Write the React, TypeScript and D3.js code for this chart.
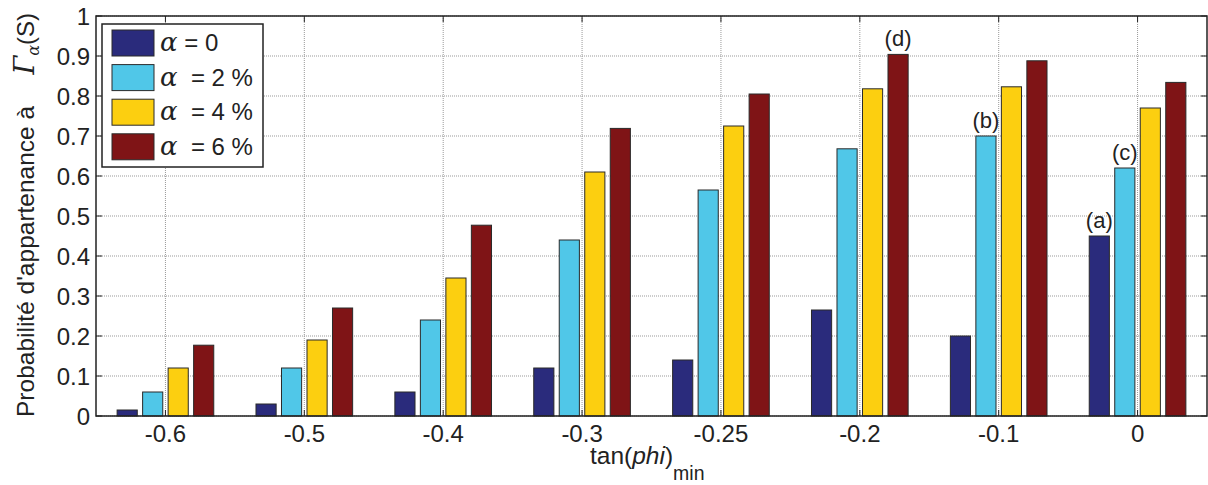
import React from "react";
import * as d3 from "d3";

const categories = ["-0.6", "-0.5", "-0.4", "-0.3", "-0.25", "-0.2", "-0.1", "0"];
const seriesNames = ["a0", "a2", "a4", "a6"];
const seriesLabels = ["= 0", " = 2 %", " = 4 %", " = 6 %"];
const seriesColors = ["#2a2b7c", "#50c7e8", "#fccf10", "#7f1416"];
const alpha0 = [0.015, 0.03, 0.06, 0.12, 0.14, 0.265, 0.2, 0.45];
const alpha2 = [0.06, 0.12, 0.24, 0.44, 0.565, 0.668, 0.7, 0.62];
const alpha4 = [0.12, 0.19, 0.345, 0.61, 0.725, 0.818, 0.823, 0.77];
const alpha6 = [0.177, 0.27, 0.477, 0.719, 0.805, 0.904, 0.888, 0.834];
const seriesValues = [alpha0, alpha2, alpha4, alpha6];
const yTicks = [0, 0.1, 0.2, 0.3, 0.4, 0.5, 0.6, 0.7, 0.8, 0.9, 1];
const annotations = [
  { label: "(d)", category: "-0.2", series: 3 },
  { label: "(b)", category: "-0.1", series: 1 },
  { label: "(c)", category: "0", series: 1 },
  { label: "(a)", category: "0", series: 0 },
];

const W = 1208;
const H = 485;
const left = 96;
const right = 1207;
const top = 16;
const bottom = 416;
const font = "'Liberation Sans', Arial, sans-serif";
const serif = "'DejaVu Serif', 'Liberation Serif', serif";

export default function App() {
  const x = d3.scaleBand<string>().domain(categories).range([left, right]).padding(0);
  const xs = d3.scaleBand<string>().domain(seriesNames).range([-51, 51]).padding(0);
  const y = d3.scaleLinear().domain([0, 1]).range([bottom, top]);
  const bw = xs.bandwidth() * 0.79;
  const cx = (c: string) => (x(c) as number) + x.bandwidth() / 2;
  const barX = (c: string, si: number) =>
    cx(c) + (xs(seriesNames[si]) as number) + (xs.bandwidth() - bw) / 2;

  return (
    <svg width={W} height={H} style={{ position: "absolute", left: 0, top: 0, background: "#fff" }}>
      {/* grid */}
      {yTicks.map((t) => (
        <line key={"gy" + t} x1={left} x2={right} y1={y(t)} y2={y(t)} stroke="#999" strokeWidth={1} strokeDasharray="1 1" />
      ))}
      {categories.map((c) => (
        <line key={"gx" + c} x1={cx(c)} x2={cx(c)} y1={top} y2={bottom} stroke="#999" strokeWidth={1} strokeDasharray="1 1" />
      ))}
      {/* bars */}
      {seriesValues.map((vals, si) =>
        categories.map((c, ci) => (
          <rect
            key={si + "-" + c}
            x={barX(c, si)}
            y={y(vals[ci])}
            width={bw}
            height={bottom - y(vals[ci])}
            fill={seriesColors[si]}
            stroke="#2a2a2a"
            strokeWidth={1}
          />
        ))
      )}
      {/* annotations */}
      {annotations.map((a) => {
        const v = seriesValues[a.series][categories.indexOf(a.category)];
        return (
          <text
            key={a.label}
            x={barX(a.category, a.series) + bw / 2}
            y={y(v) - 8}
            textAnchor="middle"
            fontFamily={font}
            fontSize={22}
            fill="#222"
          >
            {a.label}
          </text>
        );
      })}
      {/* axes box */}
      <rect x={left} y={top} width={right - left} height={bottom - top} fill="none" stroke="#222" strokeWidth={1.5} />
      {/* ticks */}
      {yTicks.map((t) => (
        <g key={"ty" + t}>
          <line x1={left} x2={left + 6} y1={y(t)} y2={y(t)} stroke="#222" strokeWidth={1} />
          <line x1={right - 6} x2={right} y1={y(t)} y2={y(t)} stroke="#222" strokeWidth={1} />
          <text x={90} y={y(t) + 8.5} textAnchor="end" fontFamily={font} fontSize={24} fill="#222">
            {d3.format("")(t)}
          </text>
        </g>
      ))}
      {categories.map((c) => (
        <g key={"tx" + c}>
          <line x1={cx(c)} x2={cx(c)} y1={bottom} y2={bottom - 6} stroke="#222" strokeWidth={1} />
          <line x1={cx(c)} x2={cx(c)} y1={top} y2={top + 6} stroke="#222" strokeWidth={1} />
          <text x={cx(c)} y={442} textAnchor="middle" fontFamily={font} fontSize={24} fill="#222">
            {c}
          </text>
        </g>
      ))}
      {/* x label */}
      <text x={590} y={464} fontFamily={font} fontSize={24.5} fill="#222">
        tan(<tspan fontStyle="italic">phi</tspan>)
        <tspan fontSize={19.5} dy={16}>min</tspan>
      </text>
      {/* y label */}
      <text
        transform={`translate(34, 417) rotate(-90)`}
        fontFamily={font}
        fontSize={24.5}
        fill="#222"
      >
        Probabilité d'appartenance à
      </text>
      <text
        transform={`translate(34, 13) rotate(-90)`}
        fontFamily={font}
        fontSize={24}
        fill="#222"
        textAnchor="end"
      >
        <tspan fontFamily={serif} fontStyle="italic" fontSize={27}>Γ</tspan>
        <tspan fontFamily={serif} fontStyle="italic" fontSize={16} dy={5}>α</tspan>
        <tspan dy={-5}>(S)</tspan>
      </text>
      {/* legend */}
      <rect x={102} y={24} width={161} height={143} fill="#fff" stroke="#222" strokeWidth={1.5} />
      {seriesNames.map((s, i) => {
        const yy = 30 + i * 34.6;
        return (
          <g key={"lg" + s}>
            <rect x={112} y={yy} width={42} height={26} fill={seriesColors[i]} stroke="#2a2a2a" strokeWidth={1} />
            <text x={160} y={yy + 21} fontFamily={font} fontSize={24} fill="#222">
              <tspan fontFamily={serif} fontStyle="italic" fontSize={26}>α</tspan>
              <tspan>{" " + seriesLabels[i].replace(/^ /, "\u00a0")}</tspan>
            </text>
          </g>
        );
      })}
    </svg>
  );
}
